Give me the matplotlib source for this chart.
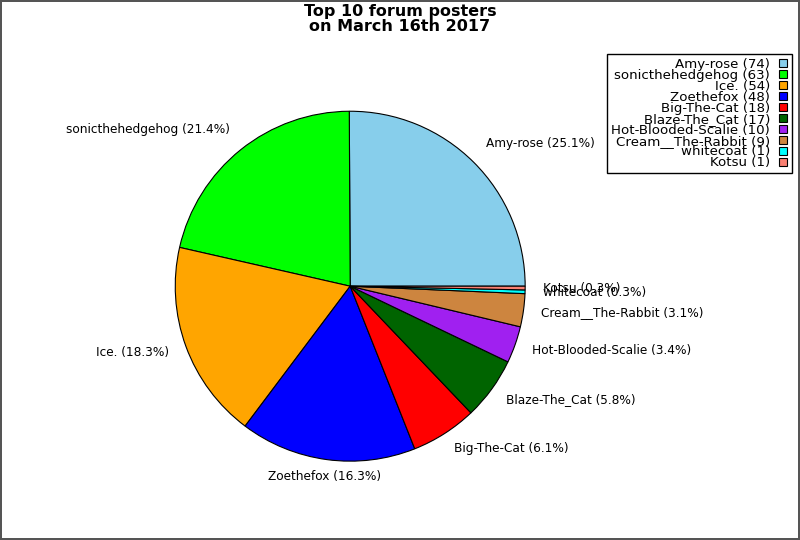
import matplotlib
matplotlib.use("Agg")
import matplotlib.pyplot as plt
from matplotlib.lines import Line2D

# forum posters on March 16th 2017
names = ['Amy-rose', 'sonicthehedgehog', 'Ice.', 'Zoethefox', 'Big-The-Cat',
         'Blaze-The_Cat', 'Hot-Blooded-Scalie', 'Cream__The-Rabbit',
         'whitecoat', 'Kotsu']
posts = [74, 63, 54, 48, 18, 17, 10, 9, 1, 1]
colors = ['#87ceeb', '#00ff00', '#ffa500', '#0000ff', '#ff0000',
          '#006400', '#a020f0', '#cd853f', '#00ffff', '#fa8072']

total = float(sum(posts))
pie_labels = ['%s (%.1f%%)' % (n, p * 100.0 / total) for n, p in zip(names, posts)]
legend_labels = ['%s (%d)' % (n, p) for n, p in zip(names, posts)]

fig = plt.figure(figsize=(8, 5.4), dpi=100)
fig.patch.set_edgecolor('#555555')
fig.patch.set_linewidth(1.5)

ax = fig.add_axes([0.219, 0.146, 0.4375, 0.648])
wedges, texts = ax.pie(posts, labels=pie_labels, colors=colors, startangle=0,
                       counterclock=True, labeldistance=1.1,
                       wedgeprops={'edgecolor': 'black', 'linewidth': 0.8},
                       textprops={'fontsize': 8.7})
ax.set_xlim(-1, 1)
ax.set_ylim(-1, 1)
ax.set_aspect('equal')

# labels high up sit on their anchor, the bottom one is centred
texts[0].set_va('bottom')
texts[1].set_va('bottom')
texts[3].set_ha('center')

fig.suptitle('Top 10 forum posters\non March 16th 2017', fontsize=11.5,
             fontweight='bold', y=0.993, linespacing=1.0)

handles = [Line2D([], [], marker='s', linestyle='none', markersize=5.4,
                  markerfacecolor=c, markeredgecolor='black', markeredgewidth=0.8)
           for c in colors]
leg = fig.legend(handles, legend_labels, loc='upper right',
                 bbox_to_anchor=(0.99, 0.9), markerfirst=False,
                 fontsize=9.6, labelspacing=-0.155, handlelength=0.8,
                 handletextpad=0.55, borderpad=0.3, borderaxespad=0,
                 fancybox=False, framealpha=1, edgecolor='black',
                 alignment='right')
for t in leg.get_texts():
    t.set_ha('right')

fig.savefig('out.png', dpi=100, edgecolor=fig.get_edgecolor())
